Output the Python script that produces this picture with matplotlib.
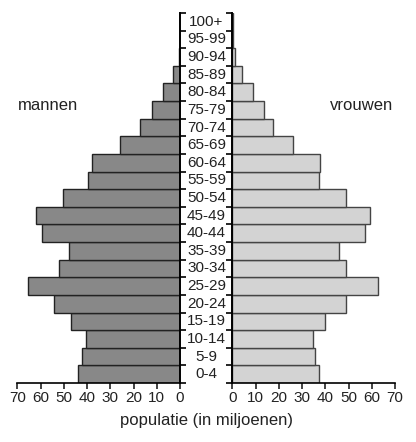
import numpy as np
import matplotlib
matplotlib.use('Agg')
from matplotlib import pyplot as plt
from matplotlib import transforms

plt.rcParams['font.family'] = ['Liberation Sans', 'DejaVu Sans']

# leeftijdsgroepen, van jong naar oud
leeftijd = ['0-4', '5-9', '10-14', '15-19', '20-24', '25-29', '30-34', '35-39',
            '40-44', '45-49', '50-54', '55-59', '60-64', '65-69', '70-74',
            '75-79', '80-84', '85-89', '90-94', '95-99', '100+']
mannen = [43.8, 42.3, 40.6, 47.0, 54.4, 65.3, 51.9, 47.8, 59.2, 61.9, 50.4,
          39.5, 38.0, 25.9, 17.0, 12.2, 7.2, 3.2, 0.6, 0.2, 0.05]
vrouwen = [37.3, 35.6, 34.6, 40.0, 48.8, 62.5, 48.8, 46.0, 57.1, 59.2, 48.8,
           37.4, 37.7, 26.2, 17.6, 13.8, 9.0, 4.0, 1.1, 0.4, 0.1]
xticks = [0, 10, 20, 30, 40, 50, 60, 70]

tekst = '#222222'
fs = 12
fs_klein = 11
fig = plt.figure(figsize=(4.16, 4.42), dpi=100)
ax_l = fig.add_axes([17.3 / 416, 59 / 442, 162.7 / 416, 370 / 442])
ax_r = fig.add_axes([232.3 / 416, 59 / 442, 162.7 / 416, 370 / 442])

y = np.arange(len(leeftijd))
ax_l.barh(y, mannen, height=1.0, color='#888888', edgecolor='#222222', linewidth=1.0)
ax_r.barh(y, vrouwen, height=1.0, color='#d3d3d3', edgecolor='#444444', linewidth=1.0)

grenzen = np.arange(len(leeftijd) + 1) - 0.5
for ax in (ax_l, ax_r):
    ax.set_xlim(0, 70)
    ax.set_ylim(-0.5, len(leeftijd) - 0.5)
    ax.set_xticks(xticks)
    ax.set_yticks(grenzen)
    ax.set_yticklabels([])
    ax.spines['top'].set_visible(False)
    ax.tick_params(axis='x', direction='out', length=4, width=1.2, colors=tekst,
                   labelsize=fs_klein, pad=2)
    ax.tick_params(axis='y', direction='out', length=4, width=1.2)
    ax.spines['bottom'].set_linewidth(1.2)
    ax.patch.set_visible(False)

ax_l.invert_xaxis()
ax_l.spines['left'].set_visible(False)
ax_l.spines['right'].set_linewidth(1.4)
ax_l.yaxis.tick_right()
ax_r.spines['right'].set_visible(False)
ax_r.spines['left'].set_linewidth(1.4)
ax_r.yaxis.tick_left()

# leeftijdslabels in het midden
trans = transforms.blended_transform_factory(fig.transFigure, ax_l.transData)
for i, lab in enumerate(leeftijd):
    fig.text(206.5 / 416, i, lab, ha='center', va='center', fontsize=fs_klein, color=tekst,
             transform=trans)

fig.text(48 / 416, 1 - 105 / 442, 'mannen', ha='center', va='center', fontsize=fs, color=tekst)
fig.text(362 / 416, 1 - 105 / 442, 'vrouwen', ha='center', va='center', fontsize=fs, color=tekst)
fig.text(207 / 416, 1 - 420 / 442, 'populatie (in miljoenen)', ha='center', va='center',
         fontsize=fs, color=tekst)

fig.savefig('out.png', dpi=100)
